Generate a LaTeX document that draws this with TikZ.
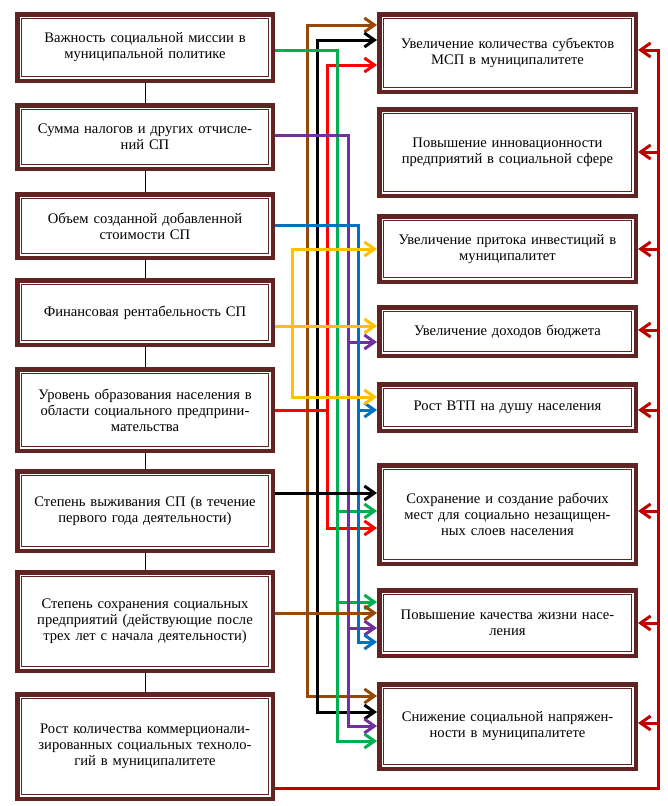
\documentclass[tikz,border=0pt]{standalone}
\usepackage{fontspec}
\setmainfont{Liberation Serif}
\usetikzlibrary{arrows.meta}
\definecolor{bord}{HTML}{622423}
\definecolor{cbrown}{HTML}{974806}
\definecolor{cred}{HTML}{FF0000}
\definecolor{cdred}{HTML}{C00000}
\definecolor{cgreen}{HTML}{00B050}
\definecolor{cpurple}{HTML}{7030A0}
\definecolor{cblue}{HTML}{0070C0}
\definecolor{cyellow}{HTML}{FFC000}
\tikzset{
  box/.style={draw=bord, line width=4.5pt, fill=white, inner sep=0pt, align=center,
    font=\fontsize{14.6}{16}\selectfont},
  lbox/.style={box, minimum width=255.5pt, text width=248pt},
  rbox/.style={box, minimum width=256.5pt, text width=249pt},
  conn/.style={line width=3pt},
  arr/.style={-{Straight Barb[length=10pt,width=14pt]}},
  barr/.style={{Straight Barb[length=10pt,width=14pt]}-{Straight Barb[length=10pt,width=14pt]}},
  inner/.style={draw=bord, line width=1pt},
}
\newcommand\mkbox[7]{%
  \node[#1, minimum height={(#6-#4-4.5)*1pt}] (#2) at ({(#3+#5)/2},{(#4+#6)/2}) {#7};
  \draw[inner] ([xshift=6.3pt,yshift=-6.3pt]#2.north west) rectangle ([xshift=-6.3pt,yshift=6.3pt]#2.south east);
}
\begin{document}
\begin{tikzpicture}[x=1pt,y=-1pt]
\useasboundingbox (0,0) rectangle (667,806);
\fill[white] (0,0) rectangle (667,806);
% left boxes
\mkbox{lbox}{L1}{15}{12}{275}{83}{Важность социальной миссии в\\муниципальной политике}
\mkbox{lbox}{L2}{15}{103}{275}{171}{Сумма налогов и других отчисле-\\ний СП}
\mkbox{lbox}{L3}{15}{192}{275}{260}{Объем созданной добавленной\\стоимости СП}
\mkbox{lbox}{L4}{15}{278}{275}{347}{Финансовая рентабельность СП}
\mkbox{lbox}{L5}{15}{367}{275}{453}{Уровень образования населения в\\области социального предприни-\\мательства}
\mkbox{lbox}{L6}{15}{469}{275}{553}{Степень выживания СП (в течение\\первого года деятельности)}
\mkbox{lbox}{L7}{15}{570}{275}{673}{Степень сохранения социальных\\предприятий (действующие после\\трех лет с начала деятельности)}
\mkbox{lbox}{L8}{15}{692}{275}{801}{Рост количества коммерционали-\\зированных социальных техноло-\\гий в муниципалитете}
% right boxes
\mkbox{rbox}{R1}{377}{12}{638}{94}{Увеличение количества субъектов\\МСП в муниципалитете}
\mkbox{rbox}{R2}{377}{107}{638}{198}{Повышение инновационности\\предприятий в социальной сфере}
\mkbox{rbox}{R3}{377}{214}{638}{284}{Увеличение притока инвестиций в\\муниципалитет}
\mkbox{rbox}{R4}{377}{305}{638}{358}{Увеличение доходов бюджета}
\mkbox{rbox}{R5}{377}{382}{638}{433}{Рост ВТП на душу населения}
\mkbox{rbox}{R6}{377}{463}{638}{566}{Сохранение и создание рабочих\\мест для социально незащищен-\\ных слоев населения}
\mkbox{rbox}{R7}{377}{588}{638}{658}{Повышение качества жизни насе-\\ления}
\mkbox{rbox}{R8}{377}{682}{638}{771}{Снижение социальной напряжен-\\ности в муниципалитете}
% thin links between left boxes
\foreach \a/\b in {L1/L2,L2/L3,L3/L4,L4/L5,L5/L6,L6/L7,L7/L8}
  \draw[line width=1pt] (\a.south) -- (\b.north);
% bus coordinates
\coordinate (yb) at (292,249);
\coordinate (bb) at (307,25);
\coordinate (kb) at (317,40);
\coordinate (rb) at (327,65);
\coordinate (gb) at (337,50);
\coordinate (pb) at (348,135);
\coordinate (ub) at (358,225);
\coordinate (db) at (658,50);
% brown bus
\draw[conn,cbrown,barr] (R1.west |- bb) -- (bb) -- (bb |- 0,696) -- (R8.west |- 0,696);
% black bus
\draw[conn,black,barr] (R1.west |- kb) -- (kb) -- (kb |- 0,712) -- (R8.west |- 0,712);
% red
\draw[conn,cred,arr] (L5.east |- 0,410) -- (rb |- 0,410) -- (rb) -- (R1.west |- rb);
\draw[conn,cred,arr] (rb |- 0,409) -- (rb |- 0,528) -- (R6.west |- 0,528);
% green
\draw[conn,cgreen,arr] (L1.east |- gb) -- (gb) -- (gb |- 0,741) -- (R8.west |- 0,741);
\draw[conn,cgreen,arr] (gb |- 0,511) -- (R6.west |- 0,511);
\draw[conn,cgreen,arr] (gb |- 0,602) -- (R7.west |- 0,602);
% purple
\draw[conn,cpurple,arr] (L2.east |- pb) -- (pb) -- (pb |- 0,726) -- (R8.west |- 0,726);
\draw[conn,cpurple,arr] (pb |- 0,342) -- (R4.west |- 0,342);
\draw[conn,cpurple,arr] (pb |- 0,628) -- (R7.west |- 0,628);
% blue
\draw[conn,cblue,arr] (L3.east |- ub) -- (ub) -- (ub |- 0,642) -- (R7.west |- 0,642);
\draw[conn,cblue,arr] (ub |- 0,410) -- (R5.west |- 0,410);
% yellow bus
\draw[conn,cyellow,barr] (R3.west |- yb) -- (yb) -- (yb |- 0,397) -- (R5.west |- 0,397);
% straight links on top
\draw[conn,cyellow,arr] (L4.east |- 0,326) -- (R4.west |- 0,326);
\draw[conn,black,arr] (L6.east |- 0,493) -- (R6.west |- 0,493);
\draw[conn,cbrown,arr] (L7.east |- 0,613) -- (R7.west |- 0,613);
% dark red feedback
\draw[conn,cdred,arr] (L8.east |- 0,788) -- (db |- 0,788) -- (db) -- (R1.east |- db);
\foreach \n/\y in {R2/152,R3/249,R4/330,R5/410,R6/511,R7/623,R8/723}
  \draw[conn,cdred,arr] (db |- 0,\y) -- (\n.east |- 0,\y);
\end{tikzpicture}
\end{document}
